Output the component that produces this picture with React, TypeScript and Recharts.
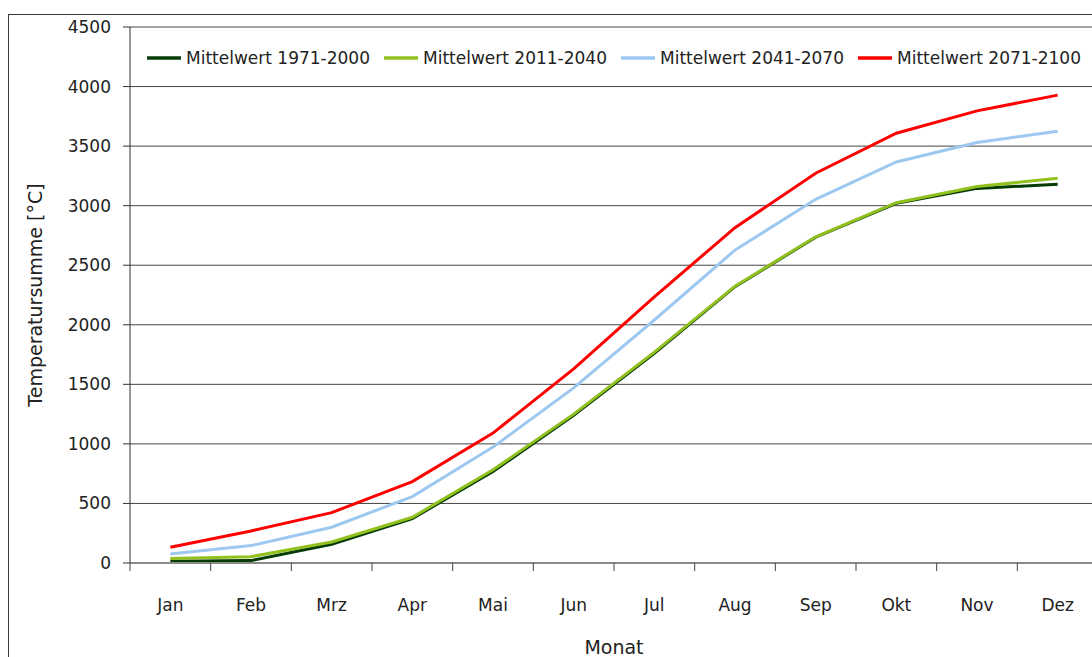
import React from 'react';
import { LineChart, Line, XAxis, YAxis, CartesianGrid, Legend, Label } from 'recharts';

// Monthly cumulative temperature sums, four reference periods
const months = ['Jan', 'Feb', 'Mrz', 'Apr', 'Mai', 'Jun', 'Jul', 'Aug', 'Sep', 'Okt', 'Nov', 'Dez'];
const mean1971 = [14, 20, 157, 373, 768, 1240, 1760, 2320, 2735, 3020, 3145, 3179];
const mean2011 = [37, 53, 177, 384, 782, 1250, 1770, 2324, 2739, 3025, 3160, 3230];
const mean2041 = [76, 146, 300, 558, 973, 1470, 2040, 2627, 3053, 3367, 3530, 3625];
const mean2071 = [132, 269, 423, 684, 1091, 1630, 2235, 2815, 3272, 3608, 3796, 3928];
const yTicks = [0, 500, 1000, 1500, 2000, 2500, 3000, 3500, 4000, 4500];

const series = [
    { key: 'm1971', name: 'Mittelwert 1971-2000', color: '#063b06', values: mean1971 },
    { key: 'm2011', name: 'Mittelwert 2011-2040', color: '#92c01f', values: mean2011 },
    { key: 'm2041', name: 'Mittelwert 2041-2070', color: '#9dc8f0', values: mean2041 },
    { key: 'm2071', name: 'Mittelwert 2071-2100', color: '#ff0000', values: mean2071 },
];

const data = months.map((month, i) => {
    const row: Record<string, string | number> = { month };
    series.forEach(s => { row[s.key] = s.values[i]; });
    return row;
});

const FONT = '"DejaVu Sans", sans-serif';
const TEXT = '#222';

const CHART_W = 1100;
const CHART_H = 645;
const MARGIN = { top: 12, right: 11, bottom: 0, left: 0 };
const Y_AXIS_W = 121;
const X_AXIS_H = 97;
const PLOT_W = CHART_W - MARGIN.left - MARGIN.right - Y_AXIS_W;
const BAND = PLOT_W / months.length;

// month label centred in its band, tick marks on the band edges
const MonthTick = ({ x, y, payload, index }: any) => {
    const half = BAND / 2;
    const top = y - 8;
    return (
        <g>
            <line x1={x - half} x2={x - half} y1={top} y2={y} stroke="#444" />
            {index === months.length - 1 && (
                <line x1={x + half} x2={x + half} y1={top} y2={y} stroke="#444" />
            )}
            <text x={x} y={y + 40} textAnchor="middle" fontSize={17} fill={TEXT} fontFamily={FONT}>
                {payload.value}
            </text>
        </g>
    );
};

const YTitle = ({ viewBox }: any) => {
    const cx = viewBox.x + 26;
    const cy = viewBox.y + viewBox.height / 2;
    return (
        <text
            x={cx}
            y={cy}
            transform={`rotate(-90, ${cx}, ${cy})`}
            textAnchor="middle"
            dominantBaseline="central"
            fontSize={19}
            fill={TEXT}
            fontFamily={FONT}
        >
            Temperatursumme [°C]
        </text>
    );
};

const LegendContent = ({ payload }: any) => (
    <div style={{ display: 'flex', alignItems: 'center', fontFamily: FONT, fontSize: 17, color: TEXT, whiteSpace: 'nowrap' }}>
        {payload.map((entry: any) => (
            <div key={entry.value} style={{ display: 'flex', alignItems: 'center', marginRight: 14 }}>
                <svg width={34} height={20}>
                    <line x1={0} x2={34} y1={10} y2={10} stroke={entry.color} strokeWidth={3.5} />
                </svg>
                <span style={{ marginLeft: 5 }}>{entry.value}</span>
            </div>
        ))}
    </div>
);

export default function App() {
    return (
        <div style={{ position: 'fixed', left: 0, top: 0, width: 1092, height: 657, overflow: 'hidden', background: '#fff' }}>
            <div style={{ position: 'absolute', left: 8, top: 14, width: CHART_W, height: CHART_H + 20, border: '1px solid #3a3a3a', background: '#fff' }}>
                <LineChart width={CHART_W} height={CHART_H} data={data} margin={MARGIN}>
                    <CartesianGrid horizontal vertical={false} stroke="#464646" />
                    <XAxis
                        dataKey="month"
                        interval={0}
                        height={X_AXIS_H}
                        padding={{ left: BAND / 2, right: BAND / 2 }}
                        axisLine={{ stroke: '#8a8a8a', strokeWidth: 2 }}
                        tickLine={false}
                        tickSize={8}
                        tickMargin={0}
                        tick={<MonthTick />}
                    >
                        <Label value="Monat" position="insideBottom" offset={6} fontSize={19} fill={TEXT} fontFamily={FONT} />
                    </XAxis>
                    <YAxis
                        width={Y_AXIS_W}
                        domain={[0, 4500]}
                        ticks={yTicks}
                        interval={0}
                        axisLine={{ stroke: '#333' }}
                        tickLine={{ stroke: '#333' }}
                        tickSize={7}
                        tickMargin={12}
                        tick={{ fontSize: 17, fill: TEXT, fontFamily: FONT }}
                    >
                        <Label content={<YTitle />} />
                    </YAxis>
                    <Legend
                        layout="horizontal"
                        verticalAlign="middle"
                        align="center"
                        content={<LegendContent />}
                        wrapperStyle={{ left: 138, top: 33, width: 'auto' }}
                    />
                    {series.map(s => (
                        <Line
                            key={s.key}
                            type="linear"
                            dataKey={s.key}
                            name={s.name}
                            stroke={s.color}
                            strokeWidth={3}
                            dot={false}
                            activeDot={false}
                            isAnimationActive={false}
                        />
                    ))}
                </LineChart>
            </div>
        </div>
    );
}
